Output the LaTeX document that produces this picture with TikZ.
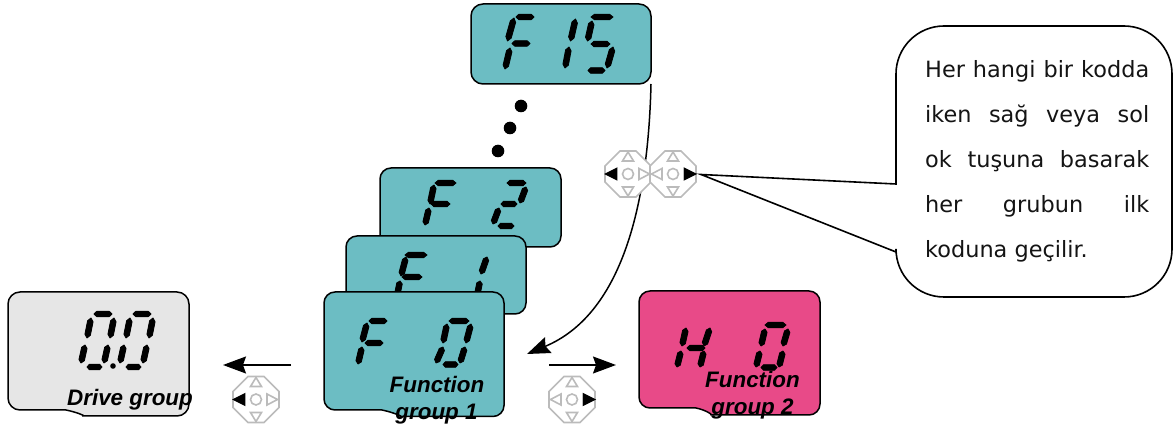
\documentclass[tikz,border=0pt]{standalone}
\usepackage{fontspec}
\setmainfont{DejaVu Sans}
\newfontfamily\labelfont{Liberation Sans}
\usetikzlibrary{calc,arrows.meta}
\definecolor{tealpanel}{HTML}{6CBDC3}
\definecolor{pinkpanel}{HTML}{E84A88}
\definecolor{graypanel}{HTML}{E6E6E6}
\definecolor{padgray}{HTML}{BBBBBB}
\tikzset{
  panel/.style={draw=black,line width=1.5pt},
  flow/.style={draw=black,line width=1.5pt,-{Stealth[length=23pt,width=17pt,inset=3pt]}},
  callout/.style={draw=black,line width=1.6pt,fill=white,line join=miter},
  caption/.style={font=\labelfont\bfseries\itshape\fontsize{22.4}{27}\selectfont,inner sep=0pt,text=black},
  bodyline/.style={anchor=base west,inner sep=0pt,font=\fontsize{22.4}{27}\selectfont,text=black!92},
  padline/.style={draw=padgray,line width=1.6pt},
}
% tapered seven-segment bars
\newcommand{\segs}[1]{%
  \foreach \ax/\ay/\bx/\by in {#1}{%
    \coordinate (sa) at (\ax,\ay);
    \coordinate (sb) at (\bx,\by);
    \fill[black,line join=round,draw=black,line width=0.8pt]
      (sa) -- ($(sa)!0.16!(sb)!2.8pt!90:(sb)$) -- ($(sb)!0.16!(sa)!2.8pt!-90:(sa)$) -- (sb)
      -- ($(sb)!0.16!(sa)!2.8pt!90:(sa)$) -- ($(sa)!0.16!(sb)!2.8pt!-90:(sb)$) -- cycle;
  }}
% direction pad: #1 x, #2 y, #3 black side (l or r)
\newcommand{\navpad}[3]{%
  \begin{scope}[shift={(#1,#2)}]
    \draw[padline,fill=white] (-23,-8)--(-8,-23)--(8,-23)--(23,-8)--(23,8)--(8,23)--(-8,23)--(-23,8)--cycle;
    \draw[padline] (0,-22)--(5.5,-13)--(-5.5,-13)--cycle;
    \draw[padline] (0,22)--(5.5,13)--(-5.5,13)--cycle;
    \draw[padline] (0,0) circle (5.5);
    \draw[padline] (21.5,0)--(11,-5.5)--(11,5.5)--cycle;
    \draw[padline] (-21.5,0)--(-11,-5.5)--(-11,5.5)--cycle;
    \ifx#3l\fill[black] (-24,0)--(-11,-6.5)--(-11,6.5)--cycle;
    \else\fill[black] (24,0)--(11,-6.5)--(11,6.5)--cycle;\fi
  \end{scope}}
\begin{document}
\begin{tikzpicture}[x=1pt,y=-1pt]
\useasboundingbox (0,0) rectangle (1173,427);

% F15
\draw[panel,fill=tealpanel,rounded corners=12pt] (471,4) rectangle (651,84);
\segs{514/18/507.5/41, 516/17/534/17, 512/43.5/530/43.5, 510/48/505/69,
      575.5/19/570.5/41, 569/47/565/68,
      591/17/613/17, 592/21/587.5/41, 591/44/610/44, 613/47/607/68, 588/70.5/605/70.5}

% ellipsis dots
\fill (521,106) circle (6.3);
\fill (510,128) circle (6.3);
\fill (498,151) circle (6.3);

% F2
\draw[panel,fill=tealpanel,rounded corners=11pt] (380,168) rectangle (561,247);
\segs{434/185/430/204, 435/183/456/183, 431/204/450/204, 429/208/425/225,
      507/183/526/183, 526/187/520/203, 501/204/517/204, 499/208/493/224, 498/226/514/226}

% F1
\draw[panel,fill=tealpanel,rounded corners=11pt] (346,236) rectangle (526,314);
\segs{406/257/401/276, 405/255/427/255, 402/277/422/277, 400/281/397/296,
      487/257/481/274, 480/281/477/296}

% F0
\draw[panel,fill=tealpanel] (324,350) [rounded corners=11pt] -- (324,292) -- (504,292) -- (504,416.5) -- (412,416.5)
  [sharp corners] .. controls (403,416.5) and (392,412) .. (382,410) [rounded corners=11pt] -- (324,410) -- (324,350) [sharp corners] -- cycle;
\segs{367/323/362/342, 369/321/387/321, 365/343/383/343, 362/347/358/364,
      449/321/469/321, 447/324/443/343, 471/324/466/343, 443/347/436/363, 465/347/460/363, 443/364.5/458/364.5}

% H0
\draw[panel,fill=pinkpanel] (639,350) [rounded corners=11pt] -- (639,291) -- (820,291) -- (820,415) -- (722,415)
  [sharp corners] .. controls (713,415) and (706,410) .. (696,408) [rounded corners=11pt] -- (639,408) -- (639,350) [sharp corners] -- cycle;
\segs{686/328/682/346, 710/328/704/346, 681/351/677/367, 704/351/700/367, 687/348/705/348,
      765/325/786/325, 765/329/761/346, 788/329/783/346, 760/351/756/367, 783/351/779/367, 761/367.5/777/367.5}

% Drive
\draw[panel,fill=graypanel] (8,350) [rounded corners=12pt] -- (8,292) -- (189,292) -- (189,416) -- (95,416)
  [sharp corners] .. controls (86,416) and (76,412) .. (66,410) [rounded corners=12pt] -- (8,410) -- (8,350) [sharp corners] -- cycle;
\foreach \dx in {0,39}{
  \begin{scope}[shift={(\dx,0)}]
  \segs{94/314/112/314, 91/318/87/338, 114/318/110/338, 85/345/81/363, 108/345/104/363, 87/367/102/367}
  \end{scope}}
\fill (113,366) circle (2.8);

% connector anchors
\coordinate (startF15) at (651,84);
\coordinate (tipF0) at (527,354);
\coordinate (leftA) at (291,365);
\coordinate (leftB) at (223,365);
\coordinate (rightA) at (549,365);
\coordinate (rightB) at (616,365);

\draw[flow] (startF15) .. controls (648,210) and (620,315) .. (tipF0);
\draw[flow] (leftA) -- (leftB);
\draw[flow] (rightA) -- (rightB);

% pads
\navpad{256}{399.5}{l}
\navpad{572}{399.5}{r}
\navpad{628}{174}{l}
\navpad{673}{174}{r}

% callout
\coordinate (pointer) at (701,174.5);
\draw[callout] (pointer) -- (896,184) -- (896,74)
  arc[start angle=180,end angle=270,radius=48] -- (1124,26)
  arc[start angle=270,end angle=360,radius=48] -- (1172,249)
  arc[start angle=0,end angle=90,radius=48] -- (944,297)
  arc[start angle=90,end angle=180,radius=48] -- (896,252) -- cycle;

\node[bodyline] (line1) at (925,78) {\hbox to 224pt{Her\hfill hangi\hfill bir\hfill kodda}};
\node[bodyline] (line2) at (925,123) {\hbox to 224pt{iken\hfill sağ\hfill veya\hfill sol}};
\node[bodyline] (line3) at (925,168) {\hbox to 224pt{ok\hfill tuşuna\hfill basarak}};
\node[bodyline] (line4) at (925,213) {\hbox to 224pt{her\hfill grubun\hfill ilk}};
\node[bodyline] (line5) at (925,258) {koduna geçilir.};

% captions
\node[caption,anchor=base] (driveCap) at (130,405.5) {Drive group};
\node[caption,anchor=base] (fn1a) at (437,393) {Function};
\node[caption,anchor=base] (fn1b) at (436.5,420) {group 1};
\node[caption,anchor=base] (fn2a) at (752.5,388) {Function};
\node[caption,anchor=base] (fn2b) at (752.5,415) {group 2};
\end{tikzpicture}
\end{document}
